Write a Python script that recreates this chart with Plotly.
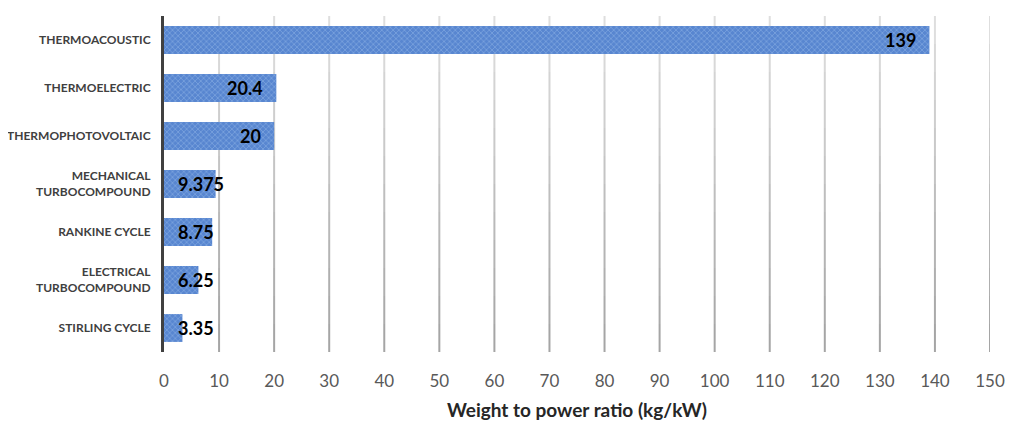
import plotly.graph_objects as go

categories = ["THERMOACOUSTIC", "THERMOELECTRIC", "THERMOPHOTOVOLTAIC",
              "MECHANICAL<br>TURBOCOMPOUND", "RANKINE CYCLE",
              "ELECTRICAL<br>TURBOCOMPOUND", "STIRLING CYCLE"]
values = [139, 20.4, 20, 9.375, 8.75, 6.25, 3.35]
value_labels = ["139", "20.4", "20", "9.375", "8.75", "6.25", "3.35"]
x_ticks = list(range(0, 151, 10))

FONT = "Lato"

fig = go.Figure()
fig.add_trace(go.Bar(
    x=values, y=categories, orientation="h",
    marker=dict(
        color="#5a8bd3",
        line=dict(width=0),
        pattern=dict(shape="x", size=4, solidity=0.3,
                     bgcolor="#5886d0", fgcolor="#84a9e2", fillmode="replace"),
    ),
    hoverinfo="x+y",
))

# data labels
for cat, v, lab in zip(categories, values, value_labels):
    if v >= 15:
        fig.add_annotation(x=v, y=cat, text=lab, showarrow=False, xanchor="right",
                           xshift=-11, font=dict(family=FONT, size=18, color="#000000", weight="bold"))
    else:
        fig.add_annotation(x=0, y=cat, text=lab, showarrow=False, xanchor="left",
                           xshift=12, font=dict(family=FONT, size=18, color="#000000", weight="bold"))

# gradient vertical gridlines (light at top, darker at bottom)
nseg = 12
for t in x_ticks[1:]:
    for i in range(nseg):
        frac = i / (nseg - 1)
        c = int(222 - frac * (222 - 165))
        fig.add_shape(type="line", xref="x", yref="paper", x0=t, x1=t,
                      y0=1 - i / nseg, y1=1 - (i + 1) / nseg,
                      line=dict(color=f"rgb({c},{c},{c})", width=2), layer="below")

fig.update_layout(
    width=1024, height=439,
    margin=dict(l=156, r=42, t=8, b=95),
    paper_bgcolor="white", plot_bgcolor="white",
    bargap=0.42,
    showlegend=False,
    font=dict(family=FONT),
    xaxis=dict(
        range=[0, 150], tickvals=x_ticks, showgrid=False, zeroline=False,
        automargin=False,
        ticks="outside", ticklen=14, tickcolor="rgba(0,0,0,0)",
        tickfont=dict(family=FONT, size=17, color="#595959"),
        title=dict(text="Weight to power ratio (kg/kW)", standoff=13,
                   font=dict(family=FONT, size=19, color="#262626", weight="bold")),
        showline=False,
    ),
    yaxis=dict(
        autorange="reversed", showgrid=False, zeroline=False, automargin=False,
        showline=True, linecolor="#404040", linewidth=3,
        ticks="outside", ticklen=8, tickcolor="rgba(0,0,0,0)",
        tickfont=dict(family=FONT, size=12, color="#404040", weight="bold"),
    ),
)

fig.write_html("out.html")
